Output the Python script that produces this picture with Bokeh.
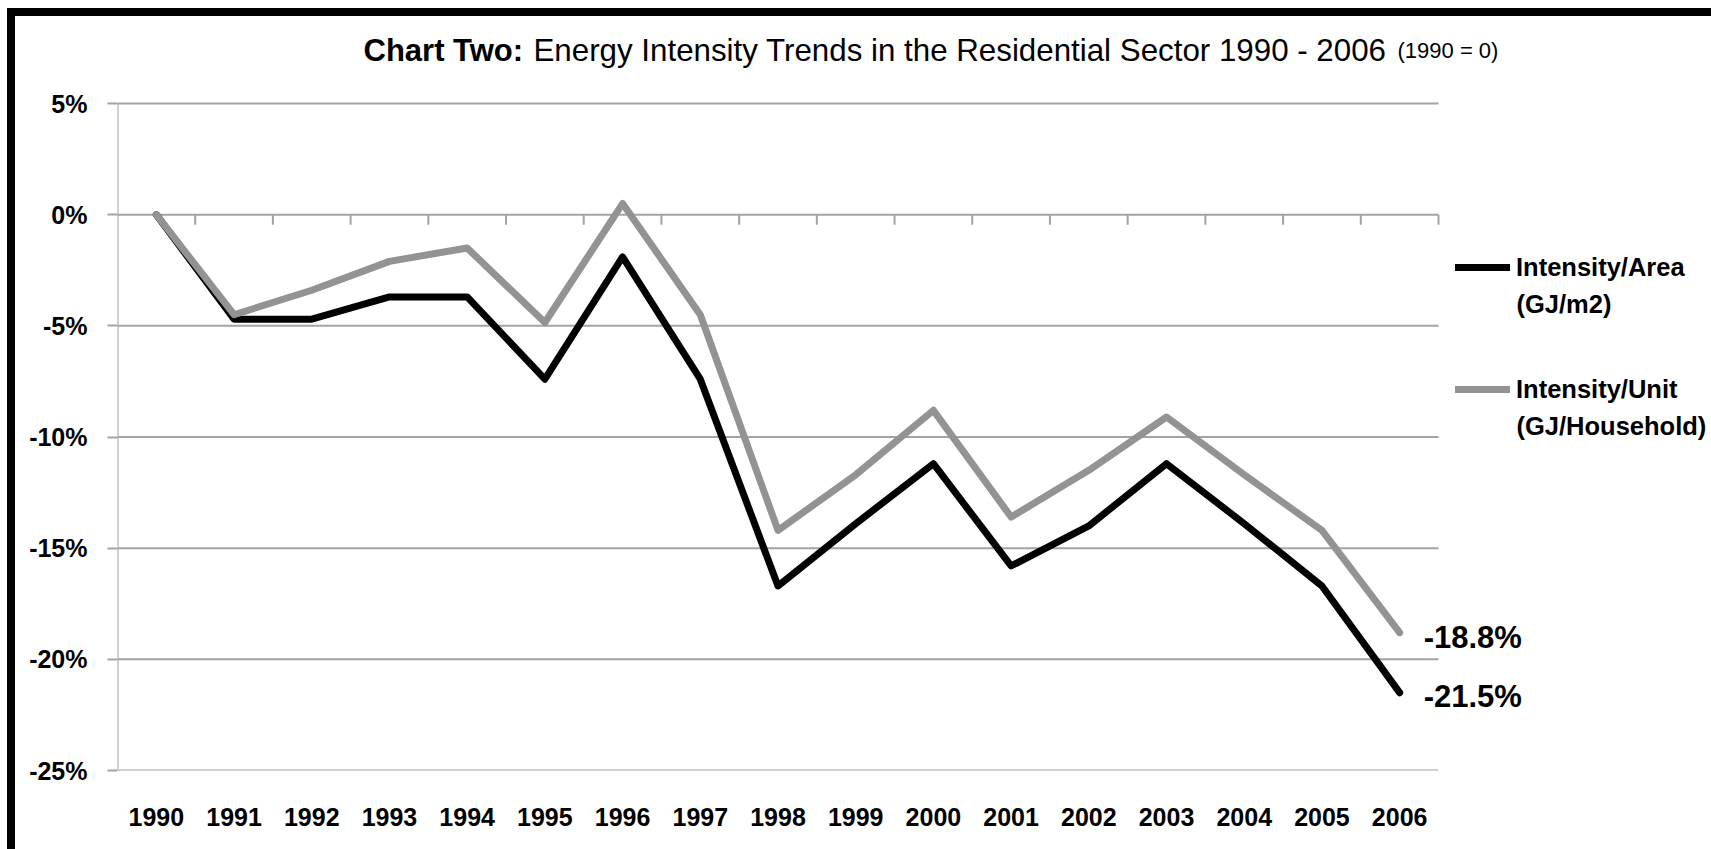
from bokeh.plotting import figure
from bokeh.models import (Range1d, FixedTicker, PrintfTickFormatter,
                          Legend, LegendItem, Label, ColumnDataSource)
from bokeh.embed import file_html
from bokeh.resources import INLINE

years = [str(y) for y in range(1990, 2007)]
intensity_area = [0, -4.7, -4.7, -3.7, -3.7, -7.4, -1.9, -7.4, -16.7, -13.9,
                  -11.2, -15.8, -14.0, -11.2, -13.9, -16.7, -21.5]
intensity_unit = [0, -4.5, -3.4, -2.1, -1.5, -4.85, 0.5, -4.5, -14.2, -11.7,
                  -8.8, -13.6, -11.5, -9.1, -11.7, -14.2, -18.8]
y_ticks = [5, 0, -5, -10, -15, -20, -25]
series_names = ["Intensity/Area", "Intensity/Unit"]
series_units = ["(GJ/m2)", "(GJ/Household)"]
end_labels = ["-21.5%", "-18.8%"]
title_parts = ["Chart Two:", "Energy Intensity Trends in the Residential Sector 1990 - 2006", "(1990 = 0)"]

FONT = "Liberation Sans"
BLACK = "#000000"
GRAY = "#939393"
GRID = "#a3a3a3"

n = len(years)
xpos = [i + 0.5 for i in range(n)]          # category centres
ymin, ymax = min(y_ticks), max(y_ticks)

# frame: plot area plus room on the right (legend) and on top (title)
W, H = 1711, 849
left_border, bottom_border = 117, 79
frame_w = W - left_border
frame_h = H - bottom_border
px_per_cat = 1321 / n
px_per_pct = 667 / (ymax - ymin)
ytop_val = ymin + frame_h / px_per_pct


def y_at(py):
    """data y for a canvas pixel row (frame starts at canvas top)"""
    return ytop_val - py / px_per_pct


p = figure(x_range=Range1d(0, frame_w / px_per_cat),
           y_range=Range1d(ymin, ytop_val),
           width=W, height=H, output_backend="svg", toolbar_location=None,
           min_border_left=left_border, min_border_top=0, min_border_right=0,
           min_border_bottom=bottom_border)
p.styles = {"background":
            "linear-gradient(#000,#000) 7px 8px / 8px calc(100% - 8px) no-repeat, "
            "linear-gradient(#000,#000) 7px 8px / calc(100% - 7px) 8px no-repeat, #fff"}
p.border_fill_color = None
p.background_fill_color = None
p.outline_line_color = None
p.xgrid.grid_line_color = None
p.ygrid.grid_line_color = None

# y axis
p.yaxis.ticker = FixedTicker(ticks=y_ticks)
p.yaxis.formatter = PrintfTickFormatter(format="%d%%")
p.yaxis.axis_line_color = None
p.yaxis.major_tick_line_color = GRID
p.yaxis.major_tick_line_width = 2
p.yaxis.major_tick_out = 10
p.yaxis.major_tick_in = 0
p.yaxis.minor_tick_line_color = None
p.yaxis.major_label_standoff = 20
p.yaxis.major_label_text_font = FONT
p.yaxis.major_label_text_font_style = "bold"
p.yaxis.major_label_text_font_size = "25px"
p.yaxis.major_label_text_color = BLACK

# x axis (categories at their centres)
p.xaxis.ticker = FixedTicker(ticks=xpos)
p.xaxis.major_label_overrides = {x: y for x, y in zip(xpos, years)}
p.xaxis.axis_line_color = None
p.xaxis.major_tick_line_color = None
p.xaxis.minor_tick_line_color = None
p.xaxis.major_label_standoff = 31
p.xaxis.major_label_text_font = FONT
p.xaxis.major_label_text_font_style = "bold"
p.xaxis.major_label_text_font_size = "25px"
p.xaxis.major_label_text_color = BLACK

# gridlines limited to the category span, vertical axis line, category ticks on 0-line
p.segment(x0=[0] * len(y_ticks), x1=[n] * len(y_ticks), y0=y_ticks, y1=y_ticks,
          line_color=GRID, line_width=2)
p.segment(x0=[0], x1=[0], y0=[ymin], y1=[ymax], line_color=GRID, line_width=2)
p.segment(x0=list(range(1, n + 1)), x1=list(range(1, n + 1)),
          y0=[0] * n, y1=[-10 / px_per_pct] * n, line_color=GRID, line_width=2)

src = ColumnDataSource(dict(x=xpos, area=intensity_area, unit=intensity_unit))
r_area = p.line("x", "area", source=src, line_color=BLACK, line_width=7,
                line_join="round", line_cap="round")
r_unit = p.line("x", "unit", source=src, line_color=GRAY, line_width=7,
                line_join="round", line_cap="round")

# legend: one small legend per series, plus its unit line beneath
legend_rows = [(r_area, 267), (r_unit, 389)]      # glyph centre rows (px)
for (rend, row), name, unit in zip(legend_rows, series_names, series_units):
    lg = Legend(items=[LegendItem(label=name, renderers=[rend])],
                location=(1455 - left_border, frame_h - (row + 15)),
                glyph_width=55, glyph_height=30, label_height=30, label_standoff=6,
                padding=0, margin=0, spacing=0,
                border_line_color=None, background_fill_alpha=0,
                label_text_font=FONT, label_text_font_style="bold",
                label_text_font_size="25.5px", label_text_line_height=1.0,
                label_text_color=BLACK)
    p.add_layout(lg)
    p.add_layout(Label(x=0, y=y_at(row + 36), x_offset=1516 - left_border, text=unit,
                       text_baseline="middle", text_font=FONT, text_font_style="bold",
                       text_font_size="25.5px", text_color=BLACK))

# end-value labels
p.add_layout(Label(x=xpos[-1], y=intensity_area[-1], text=end_labels[0], x_offset=24, y_offset=-4,
                   text_baseline="middle", text_font=FONT, text_font_style="bold",
                   text_font_size="31px", text_color=BLACK))
p.add_layout(Label(x=xpos[-1], y=intensity_unit[-1], text=end_labels[1], x_offset=24, y_offset=-5,
                   text_baseline="middle", text_font=FONT, text_font_style="bold",
                   text_font_size="31px", text_color=BLACK))

# title in three styled pieces
p.add_layout(Label(x=0, y=ymax, x_offset=246, y_offset=53, text=title_parts[0],
                   text_font=FONT, text_font_style="bold", text_font_size="31px",
                   text_baseline="alphabetic", text_color=BLACK))
p.add_layout(Label(x=0, y=ymax, x_offset=416, y_offset=53, text=title_parts[1],
                   text_font=FONT, text_font_style="normal", text_font_size="31.3px",
                   text_baseline="alphabetic", text_color=BLACK))
p.add_layout(Label(x=0, y=ymax, x_offset=1280, y_offset=53, text=title_parts[2],
                   text_font=FONT, text_font_style="normal", text_font_size="22px",
                   text_baseline="alphabetic", text_color=BLACK))

open("out.html", "w").write(file_html(p, INLINE))
